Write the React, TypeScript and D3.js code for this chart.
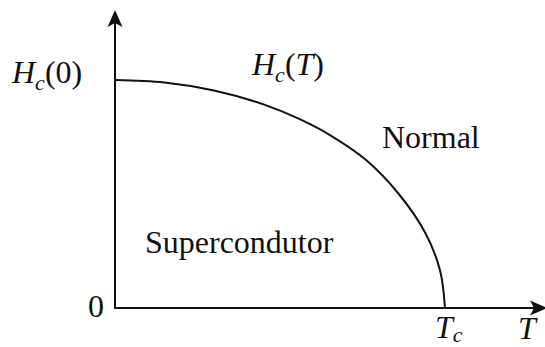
import React from "react";
import * as d3 from "d3";

// reduced temperature T/Tc and reduced critical field Hc/Hc(0)
const tValues = [0, 0.15, 0.3, 0.45, 0.56, 0.66, 0.76, 0.86, 0.94, 0.985, 1];
const hValues = [1, 0.989, 0.954, 0.893, 0.828, 0.751, 0.65, 0.5, 0.33, 0.165, 0];

const regionLabels = ["Normal", "Supercondutor"];
const zeroLabel = "0";

const App = () => {
  const width = 545;
  const height = 347;
  const origin = { x: 115, y: 308 };
  const axisEnd = { x: 547, y: 10 };

  const xScale = d3.scaleLinear().domain([0, 1]).range([origin.x, 445]);
  const yScale = d3.scaleLinear().domain([0, 1]).range([origin.y, 80]);

  const points = tValues.map((t, i) => [t, hValues[i]] as [number, number]);

  const line = d3
    .line<[number, number]>()
    .x((d) => xScale(d[0]))
    .y((d) => yScale(d[1]))
    .curve(d3.curveCatmullRom.alpha(0.5));

  const font = "'Liberation Serif', 'Times New Roman', serif";
  const ink = "#111";
  const fs = 32;
  const sub = 22;

  // arrowhead pointing up, tip at (0,0)
  const arrow = "M0,0 L-7.5,17 L0,13 L7.5,17 Z";

  return (
    <svg
      width={width}
      height={height}
      style={{ position: "absolute", left: 0, top: 0, background: "#fff" }}
    >
      {/* axes */}
      <line x1={origin.x} y1={origin.y} x2={origin.x} y2={axisEnd.y + 10} stroke={ink} strokeWidth={2} />
      <line x1={origin.x - 1} y1={origin.y} x2={axisEnd.x - 10} y2={origin.y} stroke={ink} strokeWidth={2} />
      <path d={arrow} fill={ink} transform={`translate(${origin.x},${axisEnd.y})`} />
      <path d={arrow} fill={ink} transform={`translate(${axisEnd.x},${origin.y}) rotate(90)`} />

      {/* critical field curve */}
      <path d={line(points) || ""} fill="none" stroke={ink} strokeWidth={2} />

      <g fontFamily={font} fontSize={fs} fill={ink}>
        {/* Hc(0) on the y axis */}
        <text x={12} y={yScale(1) + 3}>
          <tspan fontStyle="italic">H</tspan>
          <tspan fontStyle="italic" fontSize={sub} dy={7}>c</tspan>
          <tspan dy={-7}>(0)</tspan>
        </text>

        {/* curve label */}
        <text x={252} y={75}>
          <tspan fontStyle="italic">H</tspan>
          <tspan fontStyle="italic" fontSize={sub} dy={7}>c</tspan>
          <tspan dy={-7}>(</tspan>
          <tspan fontStyle="italic">T</tspan>
          <tspan>)</tspan>
        </text>

        <text x={382} y={148}>{regionLabels[0]}</text>
        <text x={145} y={253}>{regionLabels[1]}</text>

        <text x={origin.x - 11} y={origin.y + 9} textAnchor="end">{zeroLabel}</text>

        {/* Tc tick label */}
        <text x={xScale(1) - 10} y={338}>
          <tspan fontStyle="italic">T</tspan>
          <tspan fontStyle="italic" fontSize={sub} dy={4}>c</tspan>
        </text>

        {/* axis title */}
        <text x={518} y={339} fontStyle="italic">T</text>
      </g>
    </svg>
  );
};

export default App;
